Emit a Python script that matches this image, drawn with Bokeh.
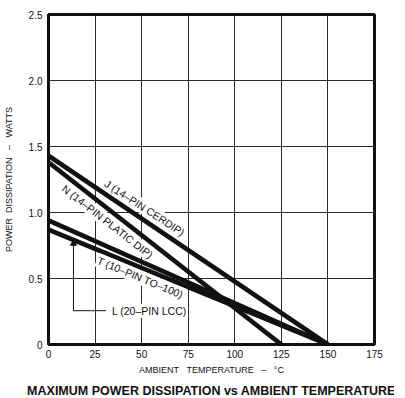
from bokeh.plotting import figure
from bokeh.models import FixedTicker, Label, Title
from bokeh.embed import file_html
from bokeh.resources import INLINE
import math

# ---- data ----
x_ticks = [0, 25, 50, 75, 100, 125, 150, 175]
x_tick_labels = ["0", "25", "50", "75", "100", "125", "150", "175"]
y_ticks = [0, 0.5, 1.0, 1.5, 2.0, 2.5]
y_tick_labels = ["0", "0.5", "1.0", "1.5", "2.0", "2.5"]

temp_j = [0, 150]
power_j = [1.43, 0]
temp_n = [0, 125]
power_n = [1.38, 0]
temp_t = [0, 150]
power_t = [0.94, 0]
temp_l = [0, 150]
power_l = [0.87, 0]

label_j = "J (14–PIN CERDIP)"
label_n = "N (14–PIN PLATIC DIP)"
label_t = "T (10–PIN TO–100)"
label_l = "L (20–PIN LCC)"

# label anchors (data units) and leader line for L
label_j_pos = (51.6, 1.036)
label_n_pos = (31.7, 0.932)
label_t_pos = (49.3, 0.508)
label_l_pos = (33.5, 0.256)
leader_x = [13.4, 13.4, 30.8]
leader_y = [0.79, 0.256, 0.256]
arrow_x = [13.4]
arrow_y = [0.765]

NB = "\u00a0"
x_title = "AMBIENT" + NB * 3 + "TEMPERATURE" + NB * 3 + "–" + NB * 3 + "°C"
y_title = "POWER" + NB * 2 + "DISSIPATION" + NB * 3 + "–" + NB * 3 + "WATTS"
chart_title = "MAXIMUM POWER DISSIPATION vs AMBIENT TEMPERATURE"

FONT = "Liberation Sans"
INK = "#111111"

p = figure(
    frame_width=326, frame_height=330,
    x_range=(0, 175), y_range=(0, 2.5),
    output_backend="svg", toolbar_location=None,
    min_border_left=41, min_border_top=14, min_border_right=20, min_border_bottom=0,
    background_fill_color="white", border_fill_color="white",
)

p.outline_line_color = INK
p.outline_line_width = 3
p.outline_line_alpha = 1.0

for ax in (p.xaxis[0], p.yaxis[0]):
    ax.axis_line_color = None
    ax.major_tick_line_color = None
    ax.minor_tick_line_color = None
    ax.major_tick_out = 0
    ax.major_tick_in = 0
    ax.minor_tick_out = 0
    ax.minor_tick_in = 0
    ax.major_label_text_font = FONT
    ax.major_label_text_font_size = "10px"
    ax.major_label_text_color = INK
    ax.axis_label_text_font = FONT
    ax.axis_label_text_font_size = "9px"
    ax.axis_label_text_font_style = "normal"
    ax.axis_label_text_color = INK

p.xaxis.ticker = FixedTicker(ticks=x_ticks)
p.yaxis.ticker = FixedTicker(ticks=y_ticks)
p.xaxis.major_label_overrides = {float(t): s for t, s in zip(x_ticks, x_tick_labels)}
p.yaxis.major_label_overrides = {float(t): s for t, s in zip(y_ticks, y_tick_labels)}
p.xaxis.major_label_standoff = 5
p.yaxis.major_label_standoff = 6
p.xaxis.axis_label = x_title
p.yaxis.axis_label = y_title
p.xaxis.axis_label_standoff = 4
p.yaxis.axis_label_standoff = 12

p.xgrid.ticker = FixedTicker(ticks=x_ticks)
p.ygrid.ticker = FixedTicker(ticks=y_ticks)
for g in (p.xgrid[0], p.ygrid[0]):
    g.grid_line_color = "#2a2a2a"
    g.grid_line_width = 1

# curves
for xs, ys in ((temp_j, power_j), (temp_n, power_n), (temp_t, power_t), (temp_l, power_l)):
    p.line(xs, ys, line_color=INK, line_width=4.6, line_cap="butt")

# leader line for L label
p.line(leader_x, leader_y, line_color=INK, line_width=1)
p.scatter(arrow_x, arrow_y, marker="triangle", size=6, color=INK)

def add_label(text, pos, deg, align="center"):
    p.add_layout(Label(
        x=pos[0], y=pos[1], text=text, angle=math.radians(deg),
        text_font=FONT, text_font_size="10.5px", text_color=INK,
        text_align=align, text_baseline="middle",
        background_fill_color="white", background_fill_alpha=1.0,
        padding=1,
    ))

add_label(label_j, label_j_pos, -33)
add_label(label_n, label_n_pos, -38)
add_label(label_t, label_t_pos, -22.5)
add_label(label_l, label_l_pos, 0, align="left")

p.add_layout(Title(
    text=chart_title, align="center", text_font=FONT,
    text_font_size="12.5px", text_font_style="bold", text_color=INK,
    standoff=8,
), "below")

open("out.html", "w").write(file_html(p, INLINE))
